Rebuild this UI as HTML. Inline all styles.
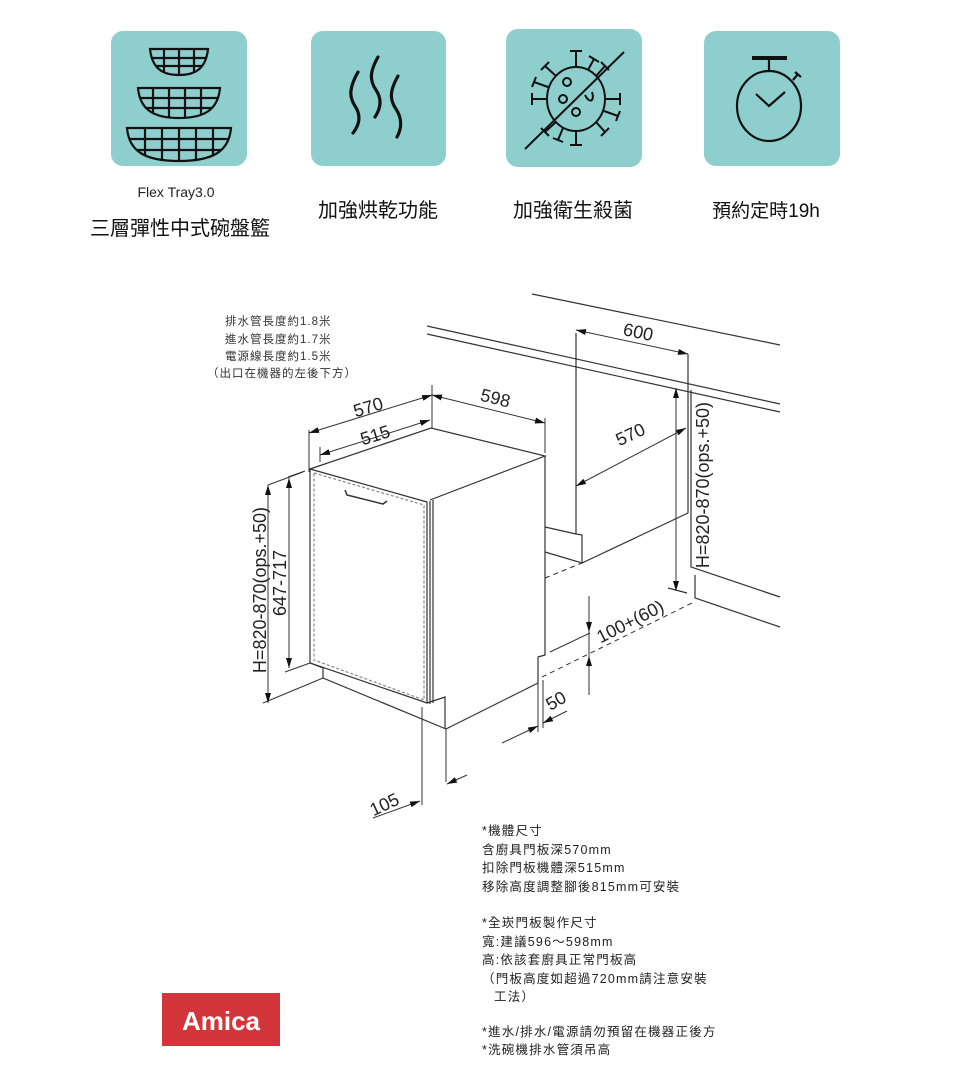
<!DOCTYPE html>
<html><head><meta charset="utf-8"><style>
html,body{margin:0;padding:0;background:#fff;}
body{width:960px;height:1086px;overflow:hidden;}
svg{display:block;}
text{font-family:"Liberation Sans","Noto Sans CJK TC",sans-serif;}
.cj{font-family:"Liberation Sans","Noto Sans CJK TC",sans-serif;}
</style></head><body>
<svg width="960" height="1086" viewBox="0 0 960 1086" xmlns="http://www.w3.org/2000/svg">
<defs>
<marker id="ar" viewBox="0 0 10 6" refX="10" refY="3" markerWidth="10" markerHeight="6" orient="auto-start-reverse" markerUnits="userSpaceOnUse"><path d="M0,0 L10,3 L0,6 z" fill="#111"/></marker>
<clipPath id="b1"><path d="M150,49 L208,49 C206,68 196,75 179,75 C162,75 152,68 150,49 Z"/></clipPath>
<clipPath id="b2"><path d="M138,88 L220,88 C218,110 204,118 179,118 C154,118 140,110 138,88 Z"/></clipPath>
<clipPath id="b3"><path d="M127,128 L231,128 C229,152 212,161 179,161 C146,161 129,152 127,128 Z"/></clipPath>
</defs>

<rect x="111" y="31" width="136" height="135" rx="12" fill="#8ecfce"/>
<rect x="311" y="31" width="135" height="135" rx="12" fill="#8ecfce"/>
<rect x="506" y="29" width="136" height="138" rx="12" fill="#8ecfce"/>
<rect x="704" y="31" width="136" height="135" rx="12" fill="#8ecfce"/>

<g stroke="#111" stroke-width="2.2" fill="none">
<g clip-path="url(#b1)"><path d="M150,58 H210 M150,66 H210 M164,45 V80 M179,45 V80 M194,45 V80"/></g>
<path d="M150,49 L208,49 C206,68 196,75 179,75 C162,75 152,68 150,49 Z"/>
<g clip-path="url(#b2)"><path d="M136,98 H222 M136,108 H222 M153,85 V120 M169,85 V120 M185,85 V120 M201,85 V120"/></g>
<path d="M138,88 L220,88 C218,110 204,118 179,118 C154,118 140,110 138,88 Z"/>
<g clip-path="url(#b3)"><path d="M125,139 H233 M125,150 H233 M145,125 V165 M162,125 V165 M179,125 V165 M196,125 V165 M213,125 V165"/></g>
<path d="M127,128 L231,128 C229,152 212,161 179,161 C146,161 129,152 127,128 Z"/>
</g>

<g stroke="#111" stroke-width="3.2" fill="none" stroke-linecap="round">
<path d="M358,72 C349,88 349,97 355,106 C361,115 360,124 353,133"/>
<path d="M378,57 C369,73 370,81 376,90 C382,99 381,108 375,117"/>
<path d="M398,76 C389,92 390,100 396,109 C402,118 402,128 397,137"/>
</g>

<g stroke="#111" stroke-width="2" fill="none">
<ellipse cx="576" cy="99" rx="29" ry="32"/>
<circle cx="567" cy="82" r="4"/><circle cx="563" cy="99" r="4"/><circle cx="576" cy="112" r="4"/>
<path d="M585,95 C590,105 595,100 592,92"/>
<path d="M576,67 V51 M570,51 H582"/>
<path d="M576,131 V145 M570,145 H582"/>
<path d="M547,99 H532 M532,93 V105"/>
<path d="M605,99 H620 M620,93 V105"/>
<path d="M556,76 L545,66 M541,70 L549,62"/>
<path d="M596,76 L605,66 M601,62 L609,70"/>
<path d="M556,122 L545,132 M541,128 L549,136"/>
<path d="M596,122 L605,132 M601,136 L609,128"/>
<path d="M548,87 L534,82 M536,77 L532,87"/>
<path d="M604,111 L618,116 M616,121 L620,111"/>
<path d="M563,128 L558,140 M553,138 L563,142"/>
<path d="M588,70 L594,59 M589,56 L599,62"/>
<path d="M525,149 L624,52"/>
</g>

<g stroke="#111" stroke-width="2.2" fill="none">
<ellipse cx="769" cy="106" rx="32" ry="35"/>
<path d="M752,58 H787" stroke-width="4"/>
<path d="M769,58 V71"/>
<path d="M793,80 L798,74 M795,72 L801,77"/>
<path d="M756,94 L769,106 L785,92"/>
</g>

<text x="176" y="197" font-size="14" text-anchor="middle" fill="#222">Flex Tray3.0</text>
<text x="180" y="235" font-size="20" text-anchor="middle" fill="#111" class="cj">三層彈性中式碗盤籃</text>
<text x="378" y="217" font-size="20" text-anchor="middle" fill="#111" class="cj">加強烘乾功能</text>
<text x="573" y="217" font-size="20" text-anchor="middle" fill="#111" class="cj">加強衛生殺菌</text>
<text x="766" y="217" font-size="19" text-anchor="middle" fill="#111" class="cj">預約定時19h</text>

<g font-size="11.5" fill="#333" letter-spacing="1">
<text x="225" y="325">排水管長度約1.8米</text>
<text x="225" y="343">進水管長度約1.7米</text>
<text x="225" y="360">電源線長度約1.5米</text>
<text x="207" y="377">（出口在機器的左後下方）</text>
</g>

<g stroke="#333" stroke-width="1.2" fill="none">
<path d="M532,294 L780,345"/>
<path d="M427,326 L780,404"/>
<path d="M427,334 L780,412"/>
<path d="M576,333 V534 L582,535 V563"/>
<path d="M545,527 L576,534"/>
<path d="M545,552 L582,563 L688,513"/>
<path d="M688,354 V513"/>
<path d="M691,390 V567 L780,597"/>
<path d="M695,575 V598 L780,627"/>
<path d="M668,588 L687,593"/>
</g>

<g stroke="#333" stroke-width="1.2" fill="none">
<path d="M310,469 L431,428 L545,456 L430,500"/>
<path d="M545,456 V655 L538,657 V683 L446,729"/>
<path d="M310,469 L427,502 V703 L310,663 Z"/>
<path d="M430,501 V704 M433,500 V703"/>
<path d="M314,473 L424,505 V700 L314,660 Z" stroke-dasharray="3 2" stroke="#888"/>
<path d="M310,663 L323,668 V678 L446,729"/>
<path d="M427,703 L445,697 V729"/>
<path d="M345,490 L347,495 L383,504 L387,501" stroke-width="1.5"/>
</g>

<g stroke="#333" stroke-width="1" fill="none">
<path d="M309,430 V472 M432,385 V428 M320,447 V462 M545,418 V453"/>
<path d="M263,703 L323,678 M268,485 L303,472 M285,672 L310,663 M288,477 L305,471"/>
<path d="M422,707 V805 M446,729 V782"/>
<path d="M538,683 V732 M543,680 V728"/>
<path d="M589,596 V695"/>
<path d="M550,652 L590,633"/>
<path d="M545,578 L582,563 M542,677 L692,603" stroke-dasharray="5 4"/>
<path d="M309,433 L432,395" marker-start="url(#ar)" marker-end="url(#ar)"/>
<path d="M320,455 L430,420" marker-start="url(#ar)" marker-end="url(#ar)"/>
<path d="M432,395 L545,423" marker-start="url(#ar)" marker-end="url(#ar)"/>
<path d="M576,330 L688,354" marker-start="url(#ar)" marker-end="url(#ar)"/>
<path d="M576,486 L686,428" marker-start="url(#ar)" marker-end="url(#ar)"/>
<path d="M676,388 V591" marker-start="url(#ar)" marker-end="url(#ar)"/>
<path d="M268,485 V703" marker-start="url(#ar)" marker-end="url(#ar)"/>
<path d="M289,478 V668" marker-start="url(#ar)" marker-end="url(#ar)"/>
<path d="M589,596 V632" marker-end="url(#ar)"/>
<path d="M589,695 V656" marker-end="url(#ar)"/>
<path d="M502,743 L538,726" marker-end="url(#ar)"/>
<path d="M567,711 L543,723" marker-end="url(#ar)"/>
<path d="M373,818 L420,801" marker-end="url(#ar)"/>
<path d="M467,775 L447,784" marker-end="url(#ar)"/>
</g>

<g font-size="18" fill="#222">
<text x="370" y="413" text-anchor="middle" transform="rotate(-17 370 413)">570</text>
<text x="377" y="441" text-anchor="middle" transform="rotate(-17 377 441)">515</text>
<text x="494" y="404" text-anchor="middle" transform="rotate(14 494 404)">598</text>
<text x="637" y="338" text-anchor="middle" transform="rotate(12 637 338)">600</text>
<text x="633" y="440" text-anchor="middle" transform="rotate(-25 633 440)">570</text>
<text x="633" y="627" text-anchor="middle" transform="rotate(-27 633 627)">100+(60)</text>
<text x="559" y="706" text-anchor="middle" transform="rotate(-30 559 706)">50</text>
<text x="387" y="810" text-anchor="middle" transform="rotate(-25 387 810)">105</text>
<text x="0" y="0" text-anchor="middle" transform="translate(266 590) rotate(-90)">H=820-870(ops.+50)</text>
<text x="0" y="0" text-anchor="middle" transform="translate(286 583) rotate(-90)">647-717</text>
<text x="0" y="0" text-anchor="middle" transform="translate(709 485) rotate(-90)">H=820-870(ops.+50)</text>
</g>

<g font-size="12.5" fill="#222" letter-spacing="1.2" class="cj">
<text x="482" y="835">*機體尺寸</text>
<text x="482" y="854">含廚具門板深570mm</text>
<text x="482" y="872">扣除門板機體深515mm</text>
<text x="482" y="891">移除高度調整腳後815mm可安裝</text>
<text x="482" y="927">*全崁門板製作尺寸</text>
<text x="482" y="946">寬:建議596～598mm</text>
<text x="482" y="964">高:依該套廚具正常門板高</text>
<text x="482" y="983">（門板高度如超過720mm請注意安裝</text>
<text x="494" y="1001">工法）</text>
<text x="482" y="1036">*進水/排水/電源請勿預留在機器正後方</text>
<text x="482" y="1054">*洗碗機排水管須吊高</text>
</g>

<rect x="162" y="993" width="118" height="53" fill="#d3363a"/>
<text x="221" y="1030" font-size="26" font-weight="bold" fill="#fff" text-anchor="middle">Amica</text>
</svg>
</body></html>
